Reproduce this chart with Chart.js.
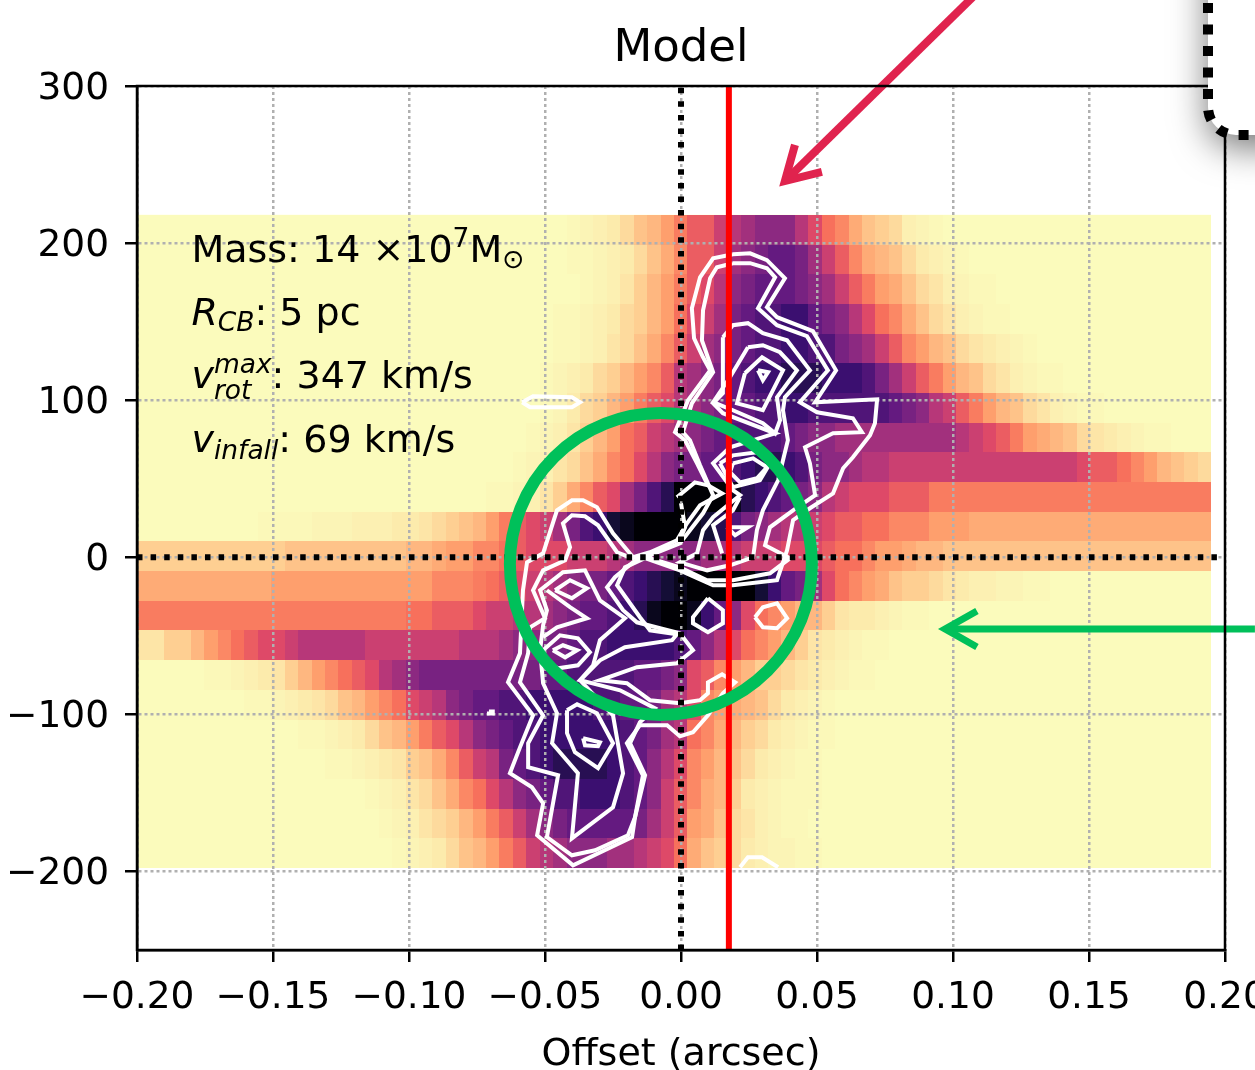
<!DOCTYPE html>
<html>
<head>
<meta charset="utf-8">
<title>Model</title>
<script src="https://cdn.jsdelivr.net/npm/chart.js@4"></script>
<style>
    html, body { margin: 0; padding: 0; background: #fff; overflow: hidden; }
    canvas { display: block; }
</style>
</head>
<body>
<canvas id="pvChart" width="1255" height="1070"></canvas>
<script>
// Axis ticks
const xTicks = [-0.2, -0.15, -0.1, -0.05, 0, 0.05, 0.1, 0.15, 0.2];
const yTicks = [300, 200, 100, 0, -100, -200];

// Heatmap grid, 80 columns by 22 rows
const columnCount = 80;
const cellWidth = 0.004936;
const rowHeight = 18.9;
const firstColumn = -0.2;
const topVelocity = 218;

// Level per cell, one string per velocity row from the top. Base 36 digits 0..k,
// in-between steps are in stepLevels. Cells outside the string are level 0.
const rowStarts = [32, 32, 33, 31, 31, 30, 30, 29, 28, 26, 9, 0, 0, 0, 0, 5, 8, 12, 14, 17, 18, 19];
const rowLevels = [
    'ABCDyx34v779abccca865wx2yCBA',
    'AABCDyxw5779bcdeedb975w3xyDCBA',
    'ABC1234v78acdeeedcb97v4wxy1CBAA',
    'AABCDy234689bdeffggedca865wxy1CBAA',
    'AABC1yxw579bcdeffggffdcb97543xy1DCBA',
    'ABCDy23457abcdefgghhhgggfdb97v43xy1CBAA',
    'ABDy234v78abcdeeffggffffffedca97v43xy1CBAA',
    'ABC1234679abcdeffffedccbbbbbbbbba987v4w3xy1DCBAA',
    'ABC1yxw568acddeefghhgfdccbaa999999999999998776543x2y',
    'AABC12w578bdfhkkkkjhgfedca9888777vvvvvvvvvvvvvvvvvvvvv',
    'AAAABBBCCCDD1y2x34v789bdfgijkkkkjihfdcbaa987766555444wwwwwwwwwwwwwwwwww',
    '22222222222xxxxxxxxx33w445567888999abcccccbba999888766544w33xxxxxxxxxxxxxxxxxxxx',
    'wwwwwwwwww444444444444555v6789abcddefghijkkkkkigedb8654wx22y1DCCBBAA',
    'vvvvvvvvvvvvvvvvvvvv66777899aabcdeefghjkkjgec86543321DDCBAA',
    '112234567889aaaaa9999999aaabccddeffgggggfeca8654321DCBAA',
    'AABCD12345678abcdddddddddeefffffeedc8754322y1DCBAA',
    'AABCD1yx345689acdeeffgggggffeedba854w3xyDCBA',
    'AABCDyx34v78acdeffggggggfedba65w32yDCBAA',
    'AABCD12xw579adefghhhhgfeca8543xyDCBAA',
    'ABC1yxw568acdeffgggfec975w32DCBAAA',
    'ABC1y234v79bcdeeeeedb974wxy1CBAA',
    'ABCDyx34v79abcccbba986wx2yDCBBAA'
];
const stepLevels = { A: 0.15, B: 0.3, C: 0.5, D: 0.75, y: 1.5, x: 2.5, w: 3.5, v: 5.5 };

// Colour stops of the reversed magma map
const magmaStops = [
    [251, 251, 188], [254, 207, 146], [254, 159, 109], [247, 112, 92], [222, 73, 104], [183, 55, 121],
    [140, 41, 129], [100, 26, 128], [59, 15, 112], [20, 14, 54], [0, 0, 4]
];

// White contours, [offset, velocity]
const contourOuter = [
    [0.0191, 192.9], [0.0254, 193.5], [0.0316, 189.1], [0.0382, 177.6], [0.0316, 159.2], [0.0353, 152.8],
    [0.0485, 143.9], [0.057, 119], [0.0493, 98.7], [0.0721, 100.6], [0.0713, 85.3], [0.0695, 77.7],
    [0.0632, 63.7], [0.0596, 56.7], [0.0559, 40.7], [0.0474, 31.2], [0.0412, 23.6], [0.039, 4.5],
    [0.0353, -14.6], [0.0191, -17.8], [0.0118, -17.8], [-0.0004, -8.3], [-0.014, 0], [-0.0176, -3.2],
    [-0.0243, -12.7], [-0.0272, -19.1], [-0.0213, -33.7], [-0.0162, -41.4], [-0.0077, -45.2], [-0.0004, -48.4],
    [0.0044, -59.2], [-0.0015, -67.5], [-0.0162, -70], [-0.0298, -78.3], [-0.0199, -80.2], [-0.0114, -91],
    [-0.0004, -92.9], [0.007, -91], [0.0099, -86.6], [0.0099, -79.6], [0.0151, -74.5], [0.0199, -79.6],
    [0.0154, -86.6], [0.0099, -100.6], [0.0044, -111.4], [-0.0004, -114], [-0.0051, -106.9], [-0.0151, -106.9],
    [-0.0199, -118.4], [-0.014, -138.8], [-0.0169, -165.5], [-0.018, -178.2], [-0.0397, -196.1], [-0.0529, -177],
    [-0.0507, -156.6], [-0.0548, -146.4], [-0.0629, -137.5], [-0.0592, -121], [-0.0544, -100.6], [-0.0636, -79.6],
    [-0.0592, -61.1], [-0.0581, -21], [-0.0566, -3.2], [-0.0507, 2.5], [-0.0456, 29.9], [-0.0401, 36.3],
    [-0.036, 36.3], [-0.0309, 31.8], [-0.025, 15.3], [-0.0176, 0], [-0.0114, 3.2], [-0.0015, 10.8],
    [0.0022, 21.6], [0.007, 33.1], [0.0151, 40.7], [0.0099, 45.8], [0.0059, 59.8], [0.0015, 74.5],
    [-0.0022, 79.6], [0.0026, 99.9], [0.0107, 119], [0.0081, 127.3], [0.0048, 139.4], [0.004, 158.5],
    [0.007, 178.2], [0.0118, 190.3]
];
const contourSecond = [
    [0.0191, 187.2], [0.0254, 187.2], [0.0316, 184], [0.0346, 178.2], [0.0283, 158.5], [0.0353, 147.7],
    [0.0463, 140.7], [0.054, 119], [0.0437, 98.7], [0.05, 92.3], [0.0632, 88.5], [0.0665, 79.6],
    [0.0559, 78.9], [0.0456, 70], [0.0474, 59.8], [0.0493, 39.5], [0.0412, 29.9], [0.0327, 19.1],
    [0.0309, 7.6], [0.0401, -0.6], [0.0327, -10.2], [0.0191, -14.6], [0.0096, -14.6], [-0.0004, -6.4],
    [-0.0125, 0], [-0.0206, -6.4], [-0.0235, -17.8], [-0.0151, -38.2], [-0.0114, -46.5], [-0.0015, -49],
    [-0.0033, -52.8], [-0.0206, -57.3], [-0.0298, -65.6], [-0.0371, -78.3], [-0.0224, -84.7], [-0.0096, -96.1],
    [-0.0151, -105], [-0.0187, -118.4], [-0.0132, -138.8], [-0.0169, -165.5], [-0.0195, -177], [-0.0316, -186.5],
    [-0.0401, -189.7], [-0.0493, -178.2], [-0.0452, -138.8], [-0.0562, -133.7], [-0.0562, -118.4], [-0.0507, -100.6],
    [-0.0592, -79.6], [-0.0562, -61.1], [-0.0555, -44.6], [-0.05, -38.8], [-0.0544, -21], [-0.0507, -8.3],
    [-0.0426, -1.9], [-0.0408, 6.4], [-0.0434, 21.6], [-0.0401, 26.7], [-0.0353, 26.1], [-0.0305, 20.4],
    [-0.0235, 3.2], [-0.018, -0.6], [-0.0114, 1.3], [-0.0004, 8.9], [0.0033, 17.2], [0.0081, 28],
    [0.0118, 39.5], [0.007, 58.6], [0.0033, 74.5], [0.0007, 79.6], [0.004, 98], [0.0118, 117.8],
    [0.0077, 138.1], [0.0081, 157.2], [0.0107, 177.6], [0.0132, 184.6]
];
const contourUpper = [
    [0.0154, 140.1], [0.0191, 147.7], [0.0246, 149], [0.0301, 142.6], [0.039, 138.1], [0.0474, 119],
    [0.0382, 101.9], [0.0375, 93.6], [0.0393, 74.5], [0.0357, 49], [0.0301, 29.9], [0.0279, 17.2],
    [0.0265, 0], [0.018, -5.1], [0.0096, -8.3], [-0.0004, -3.2], [0.0059, 2.5], [0.0081, 17.2],
    [0.0118, 25.5], [0.0217, 39.5], [0.0191, 42.7], [0.0118, 59.8], [0.018, 70], [0.029, 75.8],
    [0.0346, 78.9], [0.0154, 91.7], [0.0118, 98], [0.0154, 104.4]
];
const contourUpperInner = [
    [0.0246, 133.7], [0.0301, 135], [0.0364, 130.5], [0.0426, 119], [0.0353, 101.9], [0.0364, 87.2],
    [0.0346, 78.9], [0.0301, 85.3], [0.0191, 93.6], [0.0118, 98.7], [0.018, 114.6]
];
const contourPeak = [[0.0235, 117.1], [0.0298, 127.3], [0.0375, 119], [0.0301, 93.6], [0.0206, 98]];
const contourPeakTop = [[0.0283, 119], [0.032, 117.8], [0.0301, 112.7]];
const contourFar = [[-0.0584, 98.7], [-0.0544, 102.5], [-0.0401, 101.9], [-0.0371, 98.7], [-0.0401, 95.5], [-0.0555, 95.5]];
const contourMiddle = [[0.0143, 59.8], [0.0191, 64.9], [0.0279, 66.8], [0.0327, 59.8], [0.029, 49], [0.0191, 44.6]];
const contourMiddleInner = [[0.0191, 59.8], [0.0265, 63], [0.0316, 57.3], [0.0279, 50.3], [0.0217, 47.7], [0.018, 54.1]];
const contourWedge = [[0.0169, 19.1], [0.0246, 19.1], [0.0199, 14]];
const contourKnotA = [[0.0099, -26.1], [0.0154, -33.7], [0.0154, -42], [0.0099, -47.7], [0.0044, -42], [0.0044, -38.2]];
const contourKnotB = [[0.0272, -38.2], [0.0301, -31.8], [0.0353, -29.3], [0.039, -38.8], [0.0353, -45.2], [0.0301, -44.6]];
const contourLeftPeak = [[-0.0463, -21], [-0.0408, -14.6], [-0.0346, -19.7], [-0.0401, -26.1]];
const contourLeftRing = [[-0.0507, -59.2], [-0.0445, -49.7], [-0.0379, -51.6], [-0.0335, -60.5], [-0.0379, -68.8], [-0.0452, -70.7], [-0.05, -65.6]];
const contourLeftRingInner = [[-0.0471, -59.2], [-0.0434, -56], [-0.0382, -59.2], [-0.0426, -63.7]];
const contourLower = [
    [-0.0518, -59.2], [-0.0507, -80.2], [-0.0456, -99.3], [-0.0474, -118.4], [-0.0379, -137.5], [-0.0401, -178.9],
    [-0.025, -159.2], [-0.0213, -137.5], [-0.025, -100.6], [-0.0371, -78.3], [-0.0323, -68.8], [-0.0298, -52.8],
    [-0.0206, -38.8], [-0.0298, -27.4], [-0.0353, -8.3], [-0.0434, -9.5], [-0.0518, -21], [-0.0493, -33.7], [-0.0507, -43.3]
];
const contourLowerInner = [[-0.0419, -97.4], [-0.0382, -93.6], [-0.0309, -99.3], [-0.025, -118.4], [-0.0305, -134.3], [-0.039, -124.1], [-0.0419, -112]];
const contourLowerPeak = [[-0.036, -115.2], [-0.0298, -117.8], [-0.0305, -120.3], [-0.0353, -119.7]];
const contourSpeck = [[-0.0706, -98.2], [-0.0692, -98.2], [-0.0692, -99.4], [-0.0706, -99.4]];
const closedContours = [
    contourOuter, contourSecond, contourUpper, contourUpperInner, contourPeak, contourPeakTop, contourFar,
    contourMiddle, contourMiddleInner, contourWedge, contourKnotA, contourKnotB, contourLeftPeak, contourLeftRing,
    contourLeftRingInner, contourLower, contourLowerInner, contourLowerPeak, contourSpeck
];
const openContours = [
    [[0.0217, 38.2], [0.0191, 29.9], [0.0118, 20.4], [0.0151, 2.5]],
    [[-0.0015, 38.2], [0.0051, 47.7], [0.0099, 45.8]],
    [[0, 34.4], [0.0015, 19.1], [-0.0004, 10.8]],
    [[-0.0493, -21], [-0.0408, -31.8], [-0.0346, -38.8], [-0.0456, -44.6], [-0.0507, -50.9]],
    [[0.0217, -197.3], [0.0246, -191], [0.0298, -191], [0.0357, -197.3]]
];

// Reference lines and call-outs
const redLineX = 0.0176;
const circleCentre = [-0.0074, -4.3];
const pinkArrow = [[0.1081, 358], [0.0382, 239.5]];
const pinkHead = [[0.0419, 262.5], [0.0382, 239.5], [0.0518, 245.3]];
const greenArrow = [[0.211, -45.6], [0.0971, -45.6]];
const greenHead = [[0.1088, -34.2], [0.0971, -45.6], [0.1088, -57.1]];

// Text block
const textX = -0.18;
const textBaselines = [187.9, 147.9, 107.8, 67];

function levelColor(level) {
    const t = Math.min(level / 20, 1) * (magmaStops.length - 1);
    const i = Math.min(Math.floor(t), magmaStops.length - 2);
    const f = t - i;
    const rgb = magmaStops[i].map((c, k) => Math.round(c + (magmaStops[i + 1][k] - c) * f));
    return `rgb(${rgb[0]},${rgb[1]},${rgb[2]})`;
}

function toPoints(list) {
    return list.map(([x, y]) => ({ x, y }));
}

function lineSet(list, color, width, extra) {
    return Object.assign({
        type: 'scatter',
        data: toPoints(list),
        showLine: true,
        borderColor: color,
        borderWidth: width,
        pointRadius: 0,
        pointHoverRadius: 0,
        tension: 0,
        clip: false,
        borderJoinStyle: 'miter'
    }, extra || {});
}

const heatPlugin = {
    id: 'heat',
    beforeDraw(chart) {
        const { ctx, scales: { x, y } } = chart;
        ctx.save();
        ctx.fillStyle = '#fff';
        ctx.fillRect(0, 0, chart.width, chart.height);
        const bottomVelocity = topVelocity - rowHeight * rowLevels.length;
        const left = Math.round(x.getPixelForValue(firstColumn));
        const right = Math.round(x.getPixelForValue(firstColumn + columnCount * cellWidth));
        ctx.fillStyle = levelColor(0);
        ctx.fillRect(left, y.getPixelForValue(topVelocity), right - left, y.getPixelForValue(bottomVelocity) - y.getPixelForValue(topVelocity));
        rowLevels.forEach((row, r) => {
            const top = Math.round(y.getPixelForValue(topVelocity - r * rowHeight));
            const bottom = Math.round(y.getPixelForValue(topVelocity - (r + 1) * rowHeight));
            row.split('').forEach((c, i) => {
                const column = rowStarts[r] + i;
                const level = c in stepLevels ? stepLevels[c] : parseInt(c, 36);
                const x0 = Math.round(x.getPixelForValue(firstColumn + column * cellWidth));
                const x1 = Math.round(x.getPixelForValue(firstColumn + (column + 1) * cellWidth));
                ctx.fillStyle = levelColor(level);
                ctx.fillRect(x0, top, x1 - x0, bottom - top);
            });
        });
        ctx.restore();
    }
};

// Draws runs of text one after the other, [text, size, italic, shift]
function drawRuns(ctx, x, y, runs) {
    let pos = x;
    runs.forEach((run) => {
        ctx.font = `${run[2] ? 'italic ' : ''}${run[1]}px "DejaVu Sans"`;
        ctx.fillText(run[0], pos, y + (run[3] || 0));
        pos += ctx.measureText(run[0]).width;
    });
    return pos;
}

const overlayPlugin = {
    id: 'overlay',
    afterDatasetsDraw(chart) {
        const { ctx, chartArea: area, scales: { x, y } } = chart;
        ctx.save();
        // text block
        ctx.fillStyle = '#000';
        ctx.textBaseline = 'alphabetic';
        ctx.textAlign = 'left';
        const tx = x.getPixelForValue(textX);
        drawRuns(ctx, tx, y.getPixelForValue(textBaselines[0]), [
            ['Mass: 14 ×10', 38], ['7', 26.5, false, -15], ['M', 38], ['⊙', 26.5, false, 6]
        ]);
        drawRuns(ctx, tx, y.getPixelForValue(textBaselines[1]), [
            ['R', 38, true], ['CB', 26.5, true, 6], [': 5 pc', 38]
        ]);
        const rotY = y.getPixelForValue(textBaselines[2]);
        const afterV = drawRuns(ctx, tx, rotY, [['v', 38, true]]);
        const afterMax = drawRuns(ctx, afterV, rotY, [['max', 26.5, true, -15]]);
        drawRuns(ctx, afterV, rotY, [['rot', 26.5, true, 11]]);
        drawRuns(ctx, afterMax, rotY, [[': 347 km/s', 38]]);
        drawRuns(ctx, tx, y.getPixelForValue(textBaselines[3]), [
            ['v', 38, true], ['infall', 26.5, true, 7], [': 69 km/s', 38]
        ]);
        // axes frame
        ctx.strokeStyle = '#000';
        ctx.lineWidth = 2.5;
        ctx.strokeRect(area.left, area.top, area.right - area.left, area.bottom - area.top);
        // dotted call-out box with its shadow, cut by the top right corner
        ctx.save();
        ctx.shadowColor = 'rgba(0,0,0,0.55)';
        ctx.shadowBlur = 36;
        ctx.shadowOffsetY = 12;
        ctx.fillStyle = '#fff';
        ctx.beginPath();
        ctx.roundRect(1208, -120, 200, 255, 28);
        ctx.fill();
        ctx.restore();
        ctx.strokeStyle = '#000';
        ctx.lineWidth = 10;
        ctx.setLineDash([10, 11.5]);
        ctx.beginPath();
        ctx.moveTo(1208, 3);
        ctx.lineTo(1208, 107);
        ctx.arcTo(1208, 135, 1236, 135, 28);
        ctx.lineTo(1270, 135);
        ctx.stroke();
        ctx.restore();
    }
};

const datasets = [
    lineSet(pinkArrow, '#e0234e', 8),
    lineSet(pinkHead, '#e0234e', 8),
    lineSet(greenArrow, '#00c05a', 7),
    lineSet(greenHead, '#00c05a', 7),
    {
        type: 'scatter',
        data: toPoints([circleCentre]),
        pointStyle: 'circle',
        pointRadius: 151,
        pointHoverRadius: 151,
        pointBorderWidth: 12,
        pointBorderColor: '#00c05a',
        pointBackgroundColor: 'rgba(0,0,0,0)',
        clip: false
    },
    lineSet([[redLineX, -250], [redLineX, 300]], '#ff0000', 6),
    lineSet([[0, -250], [0, 300]], '#000', 6, { borderDash: [5.5, 8.1] }),
    lineSet([[-0.2, 0], [0.2, 0]], '#000', 6, { borderDash: [5.5, 8.1] })
];
closedContours.forEach((c) => datasets.push(lineSet(c.concat([c[0]]), '#fff', 4)));
openContours.forEach((c) => datasets.push(lineSet(c, '#fff', 4)));

const gridStyle = {
    color: '#b0b0b0',
    lineWidth: 2.5,
    tickColor: '#000',
    tickWidth: 2.5,
    tickLength: 12,
    tickBorderDash: []
};

new Chart(document.getElementById('pvChart').getContext('2d'), {
    type: 'scatter',
    data: { datasets: datasets },
    plugins: [heatPlugin, overlayPlugin],
    options: {
        responsive: false,
        animation: false,
        events: [],
        layout: { autoPadding: false, padding: { left: 0, right: 30, top: 0, bottom: 0 } },
        plugins: {
            legend: { display: false },
            tooltip: { enabled: false },
            title: {
                display: true,
                text: 'Model',
                color: '#000',
                fullSize: false,
                font: { family: 'DejaVu Sans', size: 45, weight: 'normal', lineHeight: 1.2 },
                padding: { top: 22.5, bottom: 9.5 }
            }
        },
        scales: {
            x: {
                type: 'linear',
                min: -0.2,
                max: 0.2,
                grid: gridStyle,
                border: { display: true, color: '#000', width: 2.5, dash: [3, 3] },
                afterBuildTicks: (scale) => { scale.ticks = xTicks.map((value) => ({ value })); },
                afterFit: (scale) => {
                    scale.height = 120;
                    scale.paddingLeft = 0;
                    scale.paddingRight = 0;
                },
                ticks: {
                    autoSkip: false,
                    maxRotation: 0,
                    color: '#000',
                    padding: 14,
                    font: { family: 'DejaVu Sans', size: 37.5 },
                    callback: (v) => v.toFixed(2).replace('-', '−')
                },
                title: {
                    display: true,
                    text: 'Offset (arcsec)',
                    color: '#000',
                    padding: { top: 0, bottom: -4 },
                    font: { family: 'DejaVu Sans', size: 38, lineHeight: 1 }
                }
            },
            y: {
                type: 'linear',
                min: -250,
                max: 300,
                grid: gridStyle,
                border: { display: true, color: '#000', width: 2.5, dash: [3, 3] },
                afterBuildTicks: (scale) => { scale.ticks = yTicks.map((value) => ({ value })); },
                afterFit: (scale) => {
                    scale.width = 137;
                    scale.paddingTop = 0;
                    scale.paddingBottom = 0;
                },
                ticks: {
                    autoSkip: false,
                    color: '#000',
                    padding: 16,
                    labelOffset: 3,
                    font: { family: 'DejaVu Sans', size: 37.5 },
                    callback: (v) => String(v).replace('-', '−')
                }
            }
        }
    }
});
</script>
</body>
</html>
